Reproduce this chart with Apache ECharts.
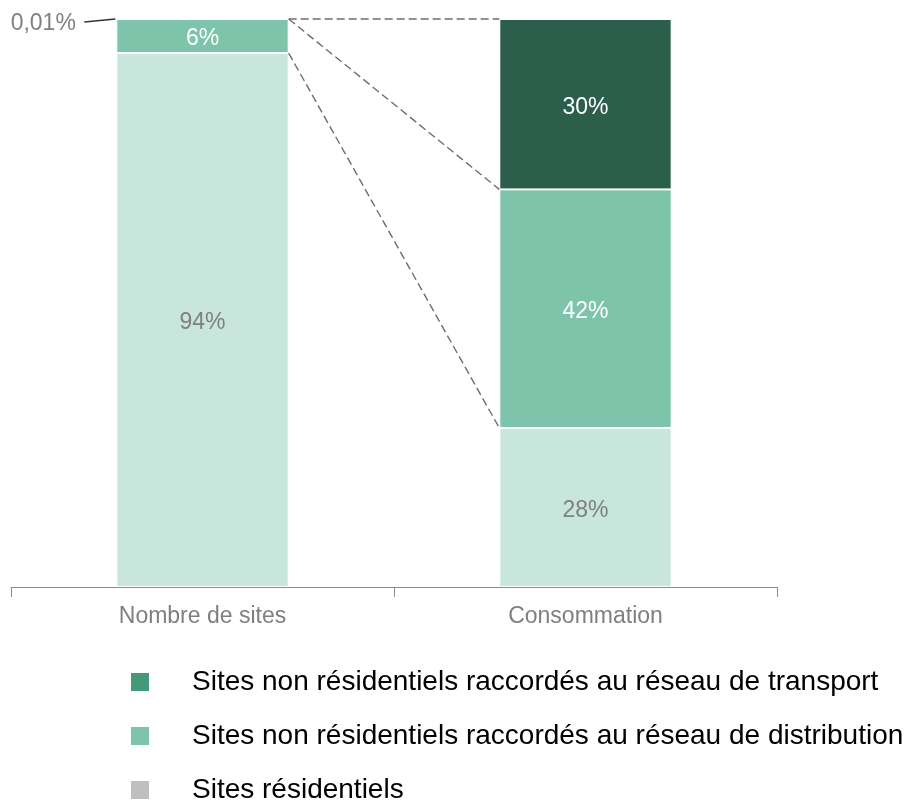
<!DOCTYPE html>
<html>
<head>
<meta charset="utf-8">
<script src="https://cdn.jsdelivr.net/npm/echarts@6/dist/echarts.min.js"></script>
<style>html,body{margin:0;padding:0;background:#fff}#c{width:907px;height:802px}</style>
</head>
<body>
<div id="c"></div>
<script>
var categories = ['Nombre de sites', 'Consommation'];
var residentiel = [94, 28];
var distribution = [5.99, 42];
var transport = [0.01, 30];
var seriesNames = [
  'Sites résidentiels',
  'Sites non résidentiels raccordés au réseau de distribution',
  'Sites non résidentiels raccordés au réseau de transport'
];
var labelsResidentiel = ['94%', '28%'];
var labelsDistribution = ['6%', '42%'];
var labelsTransport = ['0,01%', '30%'];
// connector lines: [from category, from value, to category, to value]
var connectors = [
  [0, 100, 1, 100],
  [0, 100, 1, 70],
  [0, 94, 1, 28]
];

var barColors = ['#c8e6dc', '#7dc4aa', '#2b5e4b'];
var legendColors = ['#bfbfbf', '#7dc4aa', '#449a78'];
var FONT = '"Liberation Sans", Arial, sans-serif';
var BAR_RATIO = 0.45;

var chart = echarts.init(document.getElementById('c'));

function mkData(vals, labels) {
  return vals.map(function (v, i) {
    return { value: v, label: { formatter: labels[i] } };
  });
}

var trData = transport.map(function (v, i) {
  var d = { value: v, label: { formatter: labelsTransport[i] } };
  if (i === 0) {
    d.label = {
      formatter: labelsTransport[i],
      position: 'left',
      distance: 40,
      color: '#808080',
      offset: [0, 5]
    };
  }
  return d;
});

var option = {
  animation: false,
  textStyle: { fontFamily: FONT },
  grid: { left: 11, right: 130, top: 19, height: 568, containLabel: false },
  legend: {
    orient: 'vertical',
    left: 129,
    top: 668,
    height: 160,
    padding: 0,
    itemWidth: 20,
    itemHeight: 20,
    itemGap: 26,
    icon: 'rect',
    selectedMode: false,
    textStyle: { fontSize: 28, color: '#000', fontFamily: FONT, padding: [0, 0, 0, 37] },
    data: [
      { name: seriesNames[2], itemStyle: { color: legendColors[2] } },
      { name: seriesNames[1], itemStyle: { color: legendColors[1] } },
      { name: seriesNames[0], itemStyle: { color: legendColors[0] } }
    ]
  },
  xAxis: {
    type: 'category',
    data: categories,
    axisLine: { lineStyle: { color: '#8c8c8c', width: 1 } },
    axisTick: { show: true, length: 10, alignWithLabel: false, lineStyle: { color: '#8c8c8c' } },
    axisLabel: { fontSize: 23, color: '#7f7f7f', margin: 18, fontFamily: FONT }
  },
  yAxis: { type: 'value', min: 0, max: 100, show: false, splitLine: { show: false } },
  series: [
    {
      name: seriesNames[0], type: 'bar', stack: 's', barWidth: (BAR_RATIO * 100) + '%',
      itemStyle: { color: barColors[0], borderColor: '#fff', borderWidth: 1 },
      label: { show: true, position: 'inside', offset: [0, 3], fontSize: 23, color: '#7f7f7f', fontFamily: FONT },
      data: mkData(residentiel, labelsResidentiel)
    },
    {
      name: seriesNames[1], type: 'bar', stack: 's',
      itemStyle: { color: barColors[1], borderColor: '#fff', borderWidth: 1 },
      label: { show: true, position: 'inside', offset: [0, 3], fontSize: 23, color: '#fff', fontFamily: FONT },
      data: mkData(distribution, labelsDistribution)
    },
    {
      name: seriesNames[2], type: 'bar', stack: 's',
      itemStyle: { color: barColors[2], borderColor: '#fff', borderWidth: 1 },
      label: { show: true, position: 'inside', offset: [0, 3], fontSize: 23, color: '#fff', fontFamily: FONT },
      data: trData
    },
    {
      type: 'custom',
      silent: true,
      z: 5,
      renderItem: function (params, api) {
        var band = api.size([1, 0])[0];
        var half = band * BAR_RATIO / 2;
        var p1 = api.coord([api.value(0), api.value(1)]);
        var p2 = api.coord([api.value(2), api.value(3)]);
        return {
          type: 'line',
          shape: { x1: p1[0] + half, y1: p1[1], x2: p2[0] - half, y2: p2[1] },
          style: { stroke: '#6e6e6e', lineWidth: 1.4, lineDash: [8, 4] }
        };
      },
      data: connectors
    },
    {
      // leader line for the tiny 0,01% segment
      type: 'custom',
      silent: true,
      z: 5,
      renderItem: function (params, api) {
        var band = api.size([1, 0])[0];
        var half = band * BAR_RATIO / 2;
        var p = api.coord([api.value(0), api.value(1)]);
        var x = p[0] - half;
        return {
          type: 'line',
          shape: { x1: x - 32, y1: p[1] + 3, x2: x - 1, y2: p[1] },
          style: { stroke: '#333', lineWidth: 1.3 }
        };
      },
      data: [[0, 100]]
    }
  ]
};
chart.setOption(option);
</script>
</body>
</html>
